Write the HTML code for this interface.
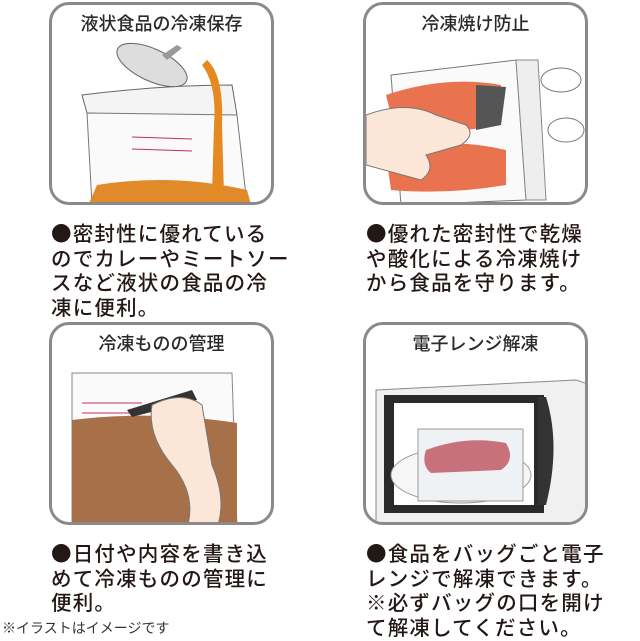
<!DOCTYPE html>
<html><head><meta charset="utf-8"><style>
*{margin:0;padding:0;box-sizing:border-box}
body{width:640px;height:640px;background:#fff;position:relative;overflow:hidden;font-family:"Liberation Sans","Noto Sans CJK JP",sans-serif;color:#222}
.f{position:absolute;width:225px;height:203px;border:3px solid #8a8a8a;border-radius:20px;overflow:hidden;background:#fff}
.f svg{position:absolute;left:0;top:0}
.t{position:absolute;left:0;width:100%;text-align:center;top:5px;font-size:18px;font-weight:500;color:#2a2a2a;z-index:2;font-family:"Noto Sans CJK JP",sans-serif}
.x{position:absolute;font-size:20.5px;line-height:24.5px;letter-spacing:1.2px;color:#231815;white-space:nowrap;font-weight:500;font-family:"Noto Sans CJK JP",sans-serif}
.b{font-family:"Noto Sans CJK JP",sans-serif}
</style></head><body>

<div class="f" style="left:49px;top:2px">
<svg width="225" height="203">
<path d="M30 90 Q110 80 180 80 L185 110 Q110 112 35 108 Z" fill="#f4f4f4" stroke="#666"/>
<path d="M35 108 L185 110 L195 200 L40 200 Z" fill="#fafafa" stroke="#777"/>
<path d="M45 180 Q120 168 195 185 L200 203 L35 203 Z" fill="#e08a2a"/>
<path d="M150 60 Q165 80 162 120 L160 190 L172 190 L170 120 Q172 70 155 55Z" fill="#e58a20"/>
<ellipse cx="100" cy="60" rx="38" ry="16" transform="rotate(25 100 60)" fill="#ddd" stroke="#666"/>
<path d="M110 50 L125 40 L130 43 L115 55Z" fill="#999"/>
<line x1="80" y1="132" x2="140" y2="134" stroke="#c0315a"/>
<line x1="80" y1="144" x2="140" y2="146" stroke="#c0315a"/>
</svg>
<div class="t">液状食品の冷凍保存</div></div>

<div class="f" style="left:363px;top:2px">
<svg width="225" height="203">
<path d="M25 70 L150 55 L160 195 L35 200Z" fill="#fafafa" stroke="#777"/>
<path d="M150 55 L172 55 L180 195 L160 195Z" fill="#eee" stroke="#888"/>
<path d="M20 90 Q80 70 135 80 L130 120 Q80 130 30 130Z" fill="#e8734e"/>
<path d="M20 150 Q80 130 140 145 L140 180 Q80 190 25 185Z" fill="#e8734e"/>
<path d="M110 80 L140 82 L135 120 L110 125Z" fill="#555"/>
<path d="M0 110 Q40 95 70 110 L100 120 Q110 130 95 140 L60 150 Q70 165 55 175 L0 160Z" fill="#fbe6d8" stroke="#777"/>
<ellipse cx="195" cy="75" rx="20" ry="12" fill="#fff" stroke="#777"/>
<ellipse cx="200" cy="125" rx="18" ry="12" fill="#fff" stroke="#777"/>
</svg>
<div class="t">冷凍焼け防止</div></div>

<div class="f" style="left:49px;top:322px">
<svg width="225" height="203">
<path d="M20 48 L180 48 L185 203 L20 203Z" fill="#fafafa" stroke="#888"/>
<path d="M20 95 Q100 85 185 98 L185 203 L20 203Z" fill="#a87048"/>
<line x1="30" y1="78" x2="90" y2="78" stroke="#c0315a"/>
<line x1="30" y1="88" x2="90" y2="88" stroke="#c0315a"/>
<path d="M75 85 L140 65 L145 75 L80 92Z" fill="#333"/>
<path d="M100 80 Q130 65 150 80 L160 140 Q175 175 165 203 L135 203 Q145 170 120 140 Q95 110 100 80Z" fill="#fbe6d8" stroke="#777"/>
</svg>
<div class="t">冷凍ものの管理</div></div>

<div class="f" style="left:363px;top:322px">
<svg width="225" height="203">
<path d="M10 65 L210 55 L225 60 L225 203 L10 203Z" fill="#f0f0f0" stroke="#888"/>
<rect x="18" y="70" width="160" height="118" fill="#2a2a2a"/>
<rect x="28" y="78" width="140" height="102" fill="#fff"/>
<ellipse cx="95" cy="150" rx="70" ry="28" fill="#f6f6f6" stroke="#999"/>
<rect x="52" y="104" width="105" height="72" fill="#eef2f4" stroke="#999"/>
<path d="M60 125 Q100 110 140 118 Q150 135 135 145 L65 148 Q55 140 60 125Z" fill="#c9717a"/>
<path d="M180 72 Q195 120 180 180 L172 180 L172 72Z" fill="#333"/>
</svg>
<div class="t">電子レンジ解凍</div></div>

<div class="x" style="left:51px;top:220px">●密封性に優れている<br>のでカレーやミートソー<br>スなど液状の食品の冷<br>凍に便利。</div>
<div class="x" style="left:366px;top:220px">●優れた密封性で乾燥<br>や酸化による冷凍焼け<br>から食品を守ります。</div>
<div class="x" style="left:51px;top:540px">●日付や内容を書き込<br>めて冷凍ものの管理に<br>便利。</div>
<div class="x" style="left:366px;top:540px">●食品をバッグごと電子<br>レンジで解凍できます。<br>※必ずバッグの口を開け<br>て解凍してください。</div>
<div style="position:absolute;left:2px;top:618px;font-size:14px;color:#333;font-family:'Noto Sans CJK JP',sans-serif">※イラストはイメージです</div>
</body></html>
